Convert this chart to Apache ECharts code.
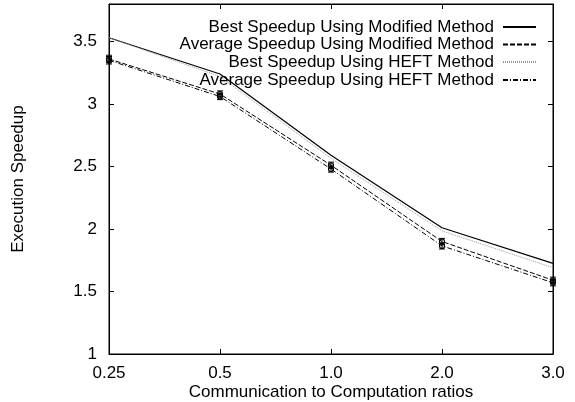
<!DOCTYPE html>
<html>
<head>
<meta charset="utf-8">
<script src="https://cdn.jsdelivr.net/npm/echarts@6/dist/echarts.min.js"></script>
<style>html,body{margin:0;padding:0;background:#fff;}#c{width:575px;height:402px;}</style>
</head>
<body>
<div id="c"></div>
<script>
var categories = ['0.25', '0.5', '1.0', '2.0', '3.0'];
var bestModified = [3.53, 3.24, 2.59, 2.01, 1.725];
var avgModified = [3.36, 3.08, 2.51, 1.90, 1.59];
var bestHEFT = [3.53, 3.22, 2.565, 1.985, 1.69];
var avgHEFT = [3.35, 3.06, 2.48, 1.865, 1.57];
var avgModifiedErr = [0.03, 0.025, 0.025, 0.025, 0.025];
var avgHEFTErr = [0.03, 0.025, 0.025, 0.025, 0.025];
var names = ['Best Speedup Using Modified Method', 'Average Speedup Using Modified Method',
             'Best Speedup Using HEFT Method', 'Average Speedup Using HEFT Method'];

var FONT = 'Liberation Sans, Arial, Helvetica, sans-serif';
var FS = 17;

function errData(vals, errs) {
  return vals.map(function (v, i) { return [i, v, errs[i]]; });
}
function errRender(params, api) {
  var x = api.value(0), y = api.value(1), e = api.value(2);
  var top = api.coord([x, y + e]);
  var bot = api.coord([x, y - e]);
  var mid = api.coord([x, y]);
  var cap = 3;
  var st = { stroke: '#000', lineWidth: 1 };
  return {
    type: 'group',
    children: [
      { type: 'line', shape: { x1: top[0], y1: top[1], x2: bot[0], y2: bot[1] }, style: st },
      { type: 'line', shape: { x1: top[0] - cap, y1: top[1], x2: top[0] + cap, y2: top[1] }, style: st },
      { type: 'line', shape: { x1: bot[0] - cap, y1: bot[1], x2: bot[0] + cap, y2: bot[1] }, style: st },
      { type: 'circle', shape: { cx: mid[0], cy: mid[1], r: 2.5 }, style: { stroke: '#000', fill: 'none', lineWidth: 1.2 } }
    ]
  };
}

function legendFor(name, center) {
  return {
    data: [name], right: 38, top: center - 8.5, align: 'right', orient: 'horizontal',
    itemWidth: 33, itemHeight: 17, padding: 0, selectedMode: false,
    itemStyle: { opacity: 0 },
    textStyle: { fontFamily: FONT, fontSize: FS, color: '#000', lineHeight: 17, padding: [0, 4, 0, 0] }
  };
}

var chart = echarts.init(document.getElementById('c'), null, { renderer: 'canvas' });
chart.setOption({
  animation: false,
  backgroundColor: '#fff',
  grid: { left: 109, right: 22, top: 4, bottom: 48, show: true, borderColor: '#000', borderWidth: 1,
          containLabel: false, outerBoundsMode: 'none' },
  legend: [legendFor(names[0], 27), legendFor(names[1], 44.5), legendFor(names[2], 62), legendFor(names[3], 80)],
  xAxis: [{
    type: 'category', data: categories, boundaryGap: false,
    name: 'Communication to Computation ratios', nameLocation: 'middle', nameGap: 30, nameMoveOverlap: false,
    nameTextStyle: { fontFamily: FONT, fontSize: FS, color: '#000' },
    axisLine: { lineStyle: { color: '#000', width: 1 } },
    axisTick: { inside: true, length: 5, lineStyle: { color: '#000' } },
    axisLabel: { fontFamily: FONT, fontSize: FS, color: '#000', margin: 11 },
    splitLine: { show: false }
  }, {
    type: 'category', data: categories, boundaryGap: false, position: 'top',
    axisLine: { lineStyle: { color: '#000', width: 1 } },
    axisTick: { inside: true, length: 5, lineStyle: { color: '#000' } },
    axisLabel: { show: false }, splitLine: { show: false }
  }],
  yAxis: [{
    type: 'value', min: 1, max: 3.8, interval: 0.5,
    name: 'Execution Speedup', nameLocation: 'middle', nameGap: 82, nameRotate: 90, nameMoveOverlap: false,
    nameTextStyle: { fontFamily: FONT, fontSize: FS, color: '#000' },
    axisLine: { show: true, lineStyle: { color: '#000', width: 1 } },
    axisTick: { show: true, inside: true, length: 5, lineStyle: { color: '#000' } },
    axisLabel: { fontFamily: FONT, fontSize: FS, color: '#000', margin: 12,
      formatter: function (v) { return (Math.abs(v * 2 - Math.round(v * 2)) < 1e-6) ? String(v) : ''; } },
    splitLine: { show: false }
  }, {
    type: 'value', min: 1, max: 3.8, interval: 0.5, position: 'right',
    axisLine: { show: true, lineStyle: { color: '#000', width: 1 } },
    axisTick: { show: true, inside: true, length: 5, lineStyle: { color: '#000' } },
    axisLabel: { show: false }, splitLine: { show: false }
  }],
  series: [
    { name: names[0], type: 'line', data: bestModified, symbol: 'none', color: '#000',
      lineStyle: { color: '#000', width: 1.2, type: 'solid' } },
    { name: names[1], type: 'line', data: avgModified, symbol: 'none', color: '#000',
      lineStyle: { color: '#000', width: 1, type: [5, 2] } },
    { name: names[2], type: 'line', data: bestHEFT, symbol: 'none', color: '#999',
      lineStyle: { color: '#999', width: 1, type: [1, 1] } },
    { name: names[3], type: 'line', data: avgHEFT, symbol: 'none', color: '#000',
      lineStyle: { color: '#000', width: 1, type: [5, 2, 1, 2] } },
    { type: 'custom', renderItem: errRender, data: errData(avgModified, avgModifiedErr), z: 5 },
    { type: 'custom', renderItem: errRender, data: errData(avgHEFT, avgHEFTErr), z: 5 }
  ]
});
</script>
</body>
</html>
